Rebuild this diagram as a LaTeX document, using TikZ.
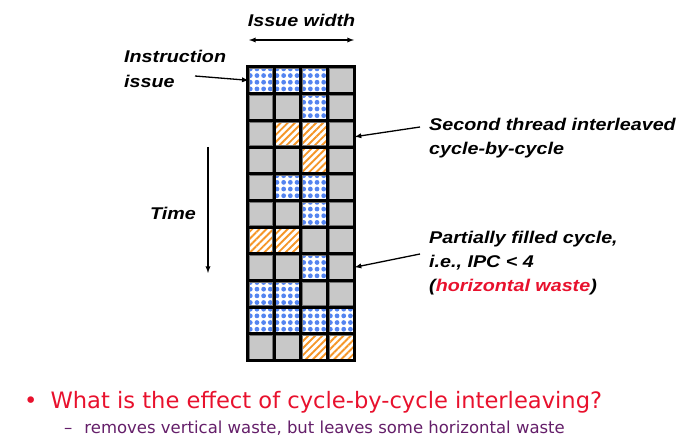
\documentclass[tikz,border=0pt]{standalone}
\usepackage{fontspec}
\newfontfamily\labelfont{Liberation Sans}
\newfontfamily\slidefont{DejaVu Sans}
\usetikzlibrary{patterns.meta}
\usetikzlibrary{positioning}
\definecolor{dotblue}{RGB}{84,132,240}
\definecolor{stripeorange}{RGB}{245,150,40}
\definecolor{cellgray}{RGB}{200,200,200}
\definecolor{slidered}{RGB}{232,17,45}
\definecolor{slidepurple}{RGB}{100,30,105}
\newcommand{\widetext}[1]{\scalebox{1.16}[1]{#1}}
\tikzset{
  slot/.style = {
    draw = black!55, line width = 0.6pt, inner sep = 0pt, minimum size = 23.7pt  },
  slotg/.style = {slot, fill = cellgray},
  slotb/.style = {slot,
    pattern = {Dots[radius=2.4pt, distance=6.675pt, xshift=3.3pt, yshift=3.3pt]},
    pattern color = dotblue},
  sloto/.style = {slot,
    pattern = {Lines[angle=45, distance=5pt, line width=1.9pt]},
    pattern color = stripeorange}
}

\begin{document}
\begin{tikzpicture}[x=1pt,y=-1pt,
gridline/.style={line width=3pt},
pointer/.style={line width=1.3pt,-latex},
tag/.style={font=\labelfont\bfseries\itshape\fontsize{17}{24}\selectfont},
callout/.style={tag, align=left, inner sep=0pt, anchor=north west}]
\useasboundingbox (0,0) rectangle (699,446);

% issue slots, one row per cycle
\foreach \r/\ta/\tb/\tc/\td in {1/b/b/b/g,2/g/g/b/g,3/g/o/o/g,4/g/g/o/g,5/g/b/b/g,
  6/g/g/b/g,7/o/o/g/g,8/g/g/b/g,9/b/b/g/g,10/b/b/b/b,11/g/g/o/o}{
 \foreach \c/\t in {1/\ta,2/\tb,3/\tc,4/\td}{
  \node[slot\t] (c-\r-\c) at (247.5+\c*26.7-13.35,67+\r*26.7-13.35){};
 }
}
\foreach \c in {0,...,4}{
 \draw[gridline] (247.5+\c*26.7,65.5) -- (247.5+\c*26.7,362.2);
}
\foreach \r in {0,...,11}{
 \draw[gridline] (246,67+\r*26.7) -- (355.8,67+\r*26.7);
}

%\draw[red] (247.5,67) rectangle (354.3,360.7);

\coordinate (iw-left) at (249,40);
\coordinate (iw-right) at (354,40);
\draw[line width=1.3pt,latex-latex] (iw-left) -- (iw-right);
\node[tag] (iw) at (301.5,20) {\widetext{Issue width}};

\node[callout] (ii) at (124,50) {\widetext{Instruction}\\[1pt]\widetext{issue}};
\coordinate (ii-tail) at (195,76);
\draw[pointer] (ii-tail) -- (c-1-1.west);

\node[callout] (st) at (429,118) {\widetext{Second thread interleaved}\\\widetext{cycle-by-cycle}};
\coordinate (st-tail) at (420,127);
\draw[pointer] (st-tail) -- ([xshift=1.5pt,yshift=-3pt]c-3-4.east);

\node[callout] (pf) at (429,231) {\widetext{Partially filled cycle,}\\\widetext{i.e., IPC < 4}\\
  \widetext{(\textcolor{slidered}{horizontal waste})}};
\coordinate (pf-tail) at (420,254);
\draw[pointer] (pf-tail) -- ([xshift=1.5pt]c-8-4.east);

\coordinate (t-top) at (208,147);
\coordinate (t-bot) at (208,273);
\draw[pointer] (t-top) -- (t-bot);
\node[tag] (time) at (173,213) {\widetext{Time}};

\node[font=\slidefont\fontsize{22.6}{26}\selectfont, text=slidered, anchor=west, inner sep=0pt] (q) at (24,402)
  {\textbullet\hspace{13pt}What is the effect of cycle-by-cycle interleaving?};
\node[font=\slidefont\fontsize{16.5}{20}\selectfont, text=slidepurple, anchor=west, inner sep=0pt] (a) at (64,428)
  {–\hspace{12pt}removes vertical waste, but leaves some horizontal waste};
\end{tikzpicture}
\end{document}
